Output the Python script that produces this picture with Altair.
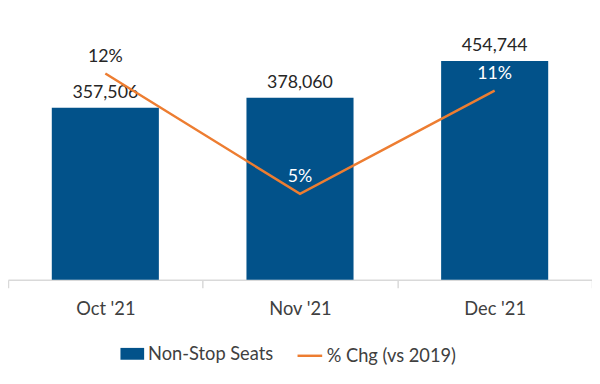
import altair as alt
import pandas as pd

months = ["Oct '21", "Nov '21", "Dec '21"]
seats = [357506, 378060, 454744]
pct_chg = [0.12, 0.05, 0.11]

bar_name = "Non-Stop Seats"
line_name = "% Chg (vs 2019)"

df = pd.DataFrame({
    "month": months,
    "seats": seats,
    "pct": pct_chg,
    "bar_series": [bar_name] * 3,
    "line_series": [line_name] * 3,
})

BLUE = "#02528a"
ORANGE = "#ed7d31"
FONT = "Lato"

x_enc = alt.X(
    "month:N",
    sort=months,
    title=None,
    scale=alt.Scale(paddingInner=0, paddingOuter=0),
    axis=alt.Axis(
        labelAngle=0,
        labelFont=FONT,
        labelFontSize=18.5,
        labelColor="#404040",
        labelPadding=12,
        domainColor="#d9d9d9",
        domainWidth=1.5,
        tickColor="#d9d9d9",
        tickWidth=1.5,
        tickSize=8,
        tickBand="extent",
    ),
)

base = alt.Chart(df)

y_seats = alt.Y("seats:Q", scale=alt.Scale(domain=[0, 500000]), axis=None)
y_pct = alt.Y("pct:Q", scale=alt.Scale(domain=[0, 0.14]), axis=None)

bars = base.mark_bar(width={"band": 0.55}).encode(
    x=x_enc,
    y=y_seats,
    color=alt.Color(
        "bar_series:N",
        scale=alt.Scale(range=[BLUE]),
        legend=alt.Legend(
            orient="none",
            legendX=114,
            legendY=307,
            title=None,
            symbolType="M-1,-0.5H1V0.5H-1Z",
            symbolSize=576,
            symbolStrokeWidth=0,
            symbolOpacity=1,
            labelFont=FONT,
            labelFontSize=18.5,
            labelColor="#404040",
            labelOffset=4,
            padding=0,
            labelLimit=300,
        ),
    ),
)

bar_text = base.mark_text(
    baseline="bottom", dy=-6, font=FONT, fontSize=18, color="#262626"
).encode(
    x=alt.X("month:N", sort=months),
    y=y_seats,
    text=alt.Text("seats:Q", format=","),
)

line = base.mark_line(strokeWidth=2.5).encode(
    x=alt.X("month:N", sort=months),
    y=y_pct,
    stroke=alt.Stroke(
        "line_series:N",
        scale=alt.Scale(range=[ORANGE]),
        legend=alt.Legend(
            orient="none",
            legendX=292,
            legendY=307,
            title=None,
            symbolType="stroke",
            symbolSize=625,
            symbolStrokeWidth=2.5,
            labelFont=FONT,
            labelFontSize=18.5,
            labelColor="#404040",
            labelOffset=3,
            padding=0,
            labelLimit=300,
        ),
    ),
)

line_text = base.mark_text(
    baseline="bottom", dy=-8, font=FONT, fontSize=18
).encode(
    x=alt.X("month:N", sort=months),
    y=y_pct,
    text=alt.Text("pct:Q", format=".0%"),
    color=alt.condition(
        alt.datum.month == months[0], alt.value("#262626"), alt.value("white")
    ),
)

left = alt.layer(bars, bar_text)
right = alt.layer(line, line_text)

chart = (
    alt.layer(left, right)
    .resolve_scale(y="independent", color="independent")
    .properties(
        width=592,
        height=244,
        autosize=alt.AutoSizeParams(type="none"),
        padding={"left": 0, "top": 29, "right": 0, "bottom": 100},
    )
    .configure_view(stroke=None)
)

chart.save("out.html", embed_options={"renderer": "svg", "actions": False})
